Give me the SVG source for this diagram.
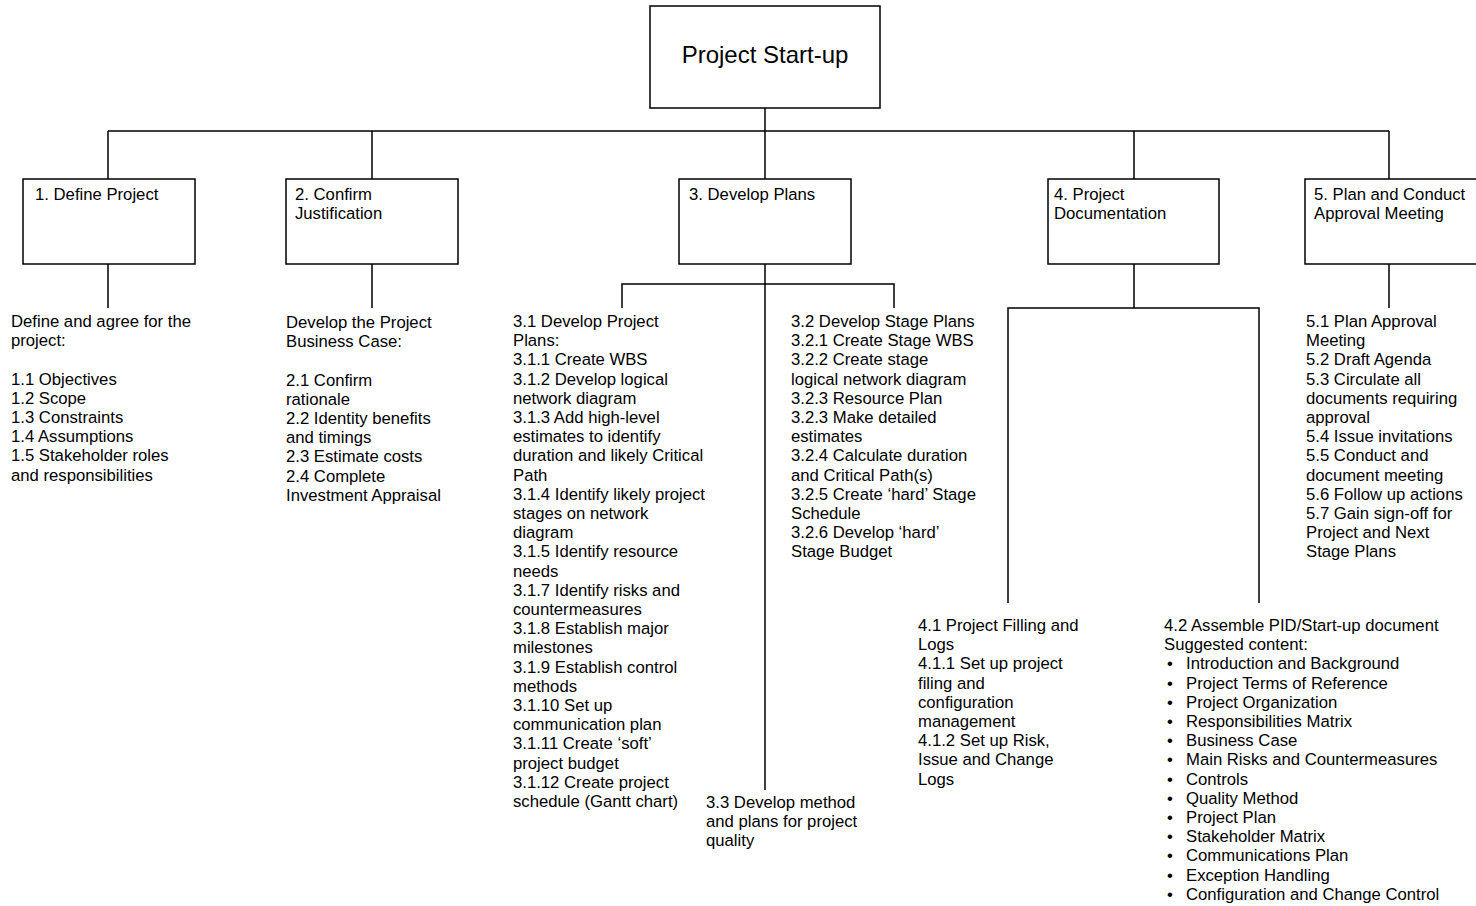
<svg xmlns="http://www.w3.org/2000/svg" width="1476" height="906" viewBox="0 0 1476 906">
<style>
.box{fill:#fff;stroke:#000;stroke-width:1.5}
.ln{fill:none;stroke:#000;stroke-width:1.5}
text{font-family:"Liberation Sans",Arial,sans-serif;font-size:16.7px;fill:#000}
.title{font-size:24px}
</style>
<rect width="1476" height="906" fill="#fff"/>
<g id="connectors">
<path class="ln" d="M765,108V131M108,131H1389M108,131V179M372,131V179M765,131V179M1134,131V179M1389,131V179"/>
<path class="ln" d="M108,264V308M372,264V308M1389,264V308"/>
<path class="ln" d="M765,264V790M622,308V284H894V308"/>
<path class="ln" d="M1134,264V308M1008,603V308H1259V603"/>
</g>
<g id="root">
<rect class="box" x="650" y="6" width="230" height="102"/>
<text class="title" x="765" y="63" text-anchor="middle">Project Start-up</text>
</g>
<g id="n1">
<rect class="box" x="23" y="179" width="172" height="85"/>
<text x="35" y="200">1. Define Project</text>
</g>
<g id="n2">
<rect class="box" x="286" y="179" width="172" height="85"/>
<text x="295" y="200"><tspan x="295">2. Confirm</tspan><tspan x="295" dy="19.2">Justification</tspan></text>
</g>
<g id="n3">
<rect class="box" x="679" y="179" width="172" height="85"/>
<text x="689" y="200">3. Develop Plans</text>
</g>
<g id="n4">
<rect class="box" x="1048" y="179" width="171" height="85"/>
<text x="1054" y="200"><tspan x="1054">4. Project</tspan><tspan x="1054" dy="19.2">Documentation</tspan></text>
</g>
<g id="n5">
<rect class="box" x="1305" y="179" width="180" height="85"/>
<text x="1314" y="200"><tspan x="1314">5. Plan and Conduct</tspan><tspan x="1314" dy="19.2">Approval Meeting</tspan></text>
</g>
<g id="t1">
<text x="11" y="327"><tspan x="11">Define and agree for the</tspan><tspan x="11" dy="19.2">project:</tspan><tspan x="11" dy="38.4">1.1 Objectives</tspan><tspan x="11" dy="19.2">1.2 Scope</tspan><tspan x="11" dy="19.2">1.3 Constraints</tspan><tspan x="11" dy="19.2">1.4 Assumptions</tspan><tspan x="11" dy="19.2">1.5 Stakeholder roles</tspan><tspan x="11" dy="19.2">and responsibilities</tspan></text>
</g>
<g id="t2">
<text x="286" y="328"><tspan x="286">Develop the Project</tspan><tspan x="286" dy="19.2">Business Case:</tspan><tspan x="286" dy="38.4">2.1 Confirm</tspan><tspan x="286" dy="19.2">rationale</tspan><tspan x="286" dy="19.2">2.2 Identity benefits</tspan><tspan x="286" dy="19.2">and timings</tspan><tspan x="286" dy="19.2">2.3 Estimate costs</tspan><tspan x="286" dy="19.2">2.4 Complete</tspan><tspan x="286" dy="19.2">Investment Appraisal</tspan></text>
</g>
<g id="t31">
<text x="513" y="327"><tspan x="513">3.1 Develop Project</tspan><tspan x="513" dy="19.2">Plans:</tspan><tspan x="513" dy="19.2">3.1.1 Create WBS</tspan><tspan x="513" dy="19.2">3.1.2 Develop logical</tspan><tspan x="513" dy="19.2">network diagram</tspan><tspan x="513" dy="19.2">3.1.3 Add high-level</tspan><tspan x="513" dy="19.2">estimates to identify</tspan><tspan x="513" dy="19.2">duration and likely Critical</tspan><tspan x="513" dy="19.2">Path</tspan><tspan x="513" dy="19.2">3.1.4 Identify likely project</tspan><tspan x="513" dy="19.2">stages on network</tspan><tspan x="513" dy="19.2">diagram</tspan><tspan x="513" dy="19.2">3.1.5 Identify resource</tspan><tspan x="513" dy="19.2">needs</tspan><tspan x="513" dy="19.2">3.1.7 Identify risks and</tspan><tspan x="513" dy="19.2">countermeasures</tspan><tspan x="513" dy="19.2">3.1.8 Establish major</tspan><tspan x="513" dy="19.2">milestones</tspan><tspan x="513" dy="19.2">3.1.9 Establish control</tspan><tspan x="513" dy="19.2">methods</tspan><tspan x="513" dy="19.2">3.1.10 Set up</tspan><tspan x="513" dy="19.2">communication plan</tspan><tspan x="513" dy="19.2">3.1.11 Create ‘soft’</tspan><tspan x="513" dy="19.2">project budget</tspan><tspan x="513" dy="19.2">3.1.12 Create project</tspan><tspan x="513" dy="19.2">schedule (Gantt chart)</tspan></text>
</g>
<g id="t32">
<text x="791" y="327"><tspan x="791">3.2 Develop Stage Plans</tspan><tspan x="791" dy="19.2">3.2.1 Create Stage WBS</tspan><tspan x="791" dy="19.2">3.2.2 Create stage</tspan><tspan x="791" dy="19.2">logical network diagram</tspan><tspan x="791" dy="19.2">3.2.3 Resource Plan</tspan><tspan x="791" dy="19.2">3.2.3 Make detailed</tspan><tspan x="791" dy="19.2">estimates</tspan><tspan x="791" dy="19.2">3.2.4 Calculate duration</tspan><tspan x="791" dy="19.2">and Critical Path(s)</tspan><tspan x="791" dy="19.2">3.2.5 Create ‘hard’ Stage</tspan><tspan x="791" dy="19.2">Schedule</tspan><tspan x="791" dy="19.2">3.2.6 Develop ‘hard’</tspan><tspan x="791" dy="19.2">Stage Budget</tspan></text>
</g>
<g id="t33">
<text x="706" y="808"><tspan x="706">3.3 Develop method</tspan><tspan x="706" dy="19.2">and plans for project</tspan><tspan x="706" dy="19.2">quality</tspan></text>
</g>
<g id="t41">
<text x="918" y="631"><tspan x="918">4.1 Project Filling and</tspan><tspan x="918" dy="19.2">Logs</tspan><tspan x="918" dy="19.2">4.1.1 Set up project</tspan><tspan x="918" dy="19.2">filing and</tspan><tspan x="918" dy="19.2">configuration</tspan><tspan x="918" dy="19.2">management</tspan><tspan x="918" dy="19.2">4.1.2 Set up Risk,</tspan><tspan x="918" dy="19.2">Issue and Change</tspan><tspan x="918" dy="19.2">Logs</tspan></text>
</g>
<g id="t42">
<text x="1164" y="631"><tspan x="1164">4.2 Assemble PID/Start-up document</tspan><tspan x="1164" dy="19.2">Suggested content:</tspan></text>
<text x="1167" y="669.4"><tspan x="1167">•</tspan><tspan x="1167" dy="19.2">•</tspan><tspan x="1167" dy="19.2">•</tspan><tspan x="1167" dy="19.2">•</tspan><tspan x="1167" dy="19.2">•</tspan><tspan x="1167" dy="19.2">•</tspan><tspan x="1167" dy="19.2">•</tspan><tspan x="1167" dy="19.2">•</tspan><tspan x="1167" dy="19.2">•</tspan><tspan x="1167" dy="19.2">•</tspan><tspan x="1167" dy="19.2">•</tspan><tspan x="1167" dy="19.2">•</tspan><tspan x="1167" dy="19.2">•</tspan></text>
<text x="1186" y="669.4"><tspan x="1186">Introduction and Background</tspan><tspan x="1186" dy="19.2">Project Terms of Reference</tspan><tspan x="1186" dy="19.2">Project Organization</tspan><tspan x="1186" dy="19.2">Responsibilities Matrix</tspan><tspan x="1186" dy="19.2">Business Case</tspan><tspan x="1186" dy="19.2">Main Risks and Countermeasures</tspan><tspan x="1186" dy="19.2">Controls</tspan><tspan x="1186" dy="19.2">Quality Method</tspan><tspan x="1186" dy="19.2">Project Plan</tspan><tspan x="1186" dy="19.2">Stakeholder Matrix</tspan><tspan x="1186" dy="19.2">Communications Plan</tspan><tspan x="1186" dy="19.2">Exception Handling</tspan><tspan x="1186" dy="19.2">Configuration and Change Control</tspan></text>
</g>
<g id="t5">
<text x="1306" y="327"><tspan x="1306">5.1 Plan Approval</tspan><tspan x="1306" dy="19.2">Meeting</tspan><tspan x="1306" dy="19.2">5.2 Draft Agenda</tspan><tspan x="1306" dy="19.2">5.3 Circulate all</tspan><tspan x="1306" dy="19.2">documents requiring</tspan><tspan x="1306" dy="19.2">approval</tspan><tspan x="1306" dy="19.2">5.4 Issue invitations</tspan><tspan x="1306" dy="19.2">5.5 Conduct and</tspan><tspan x="1306" dy="19.2">document meeting</tspan><tspan x="1306" dy="19.2">5.6 Follow up actions</tspan><tspan x="1306" dy="19.2">5.7 Gain sign-off for</tspan><tspan x="1306" dy="19.2">Project and Next</tspan><tspan x="1306" dy="19.2">Stage Plans</tspan></text>
</g>
</svg>
